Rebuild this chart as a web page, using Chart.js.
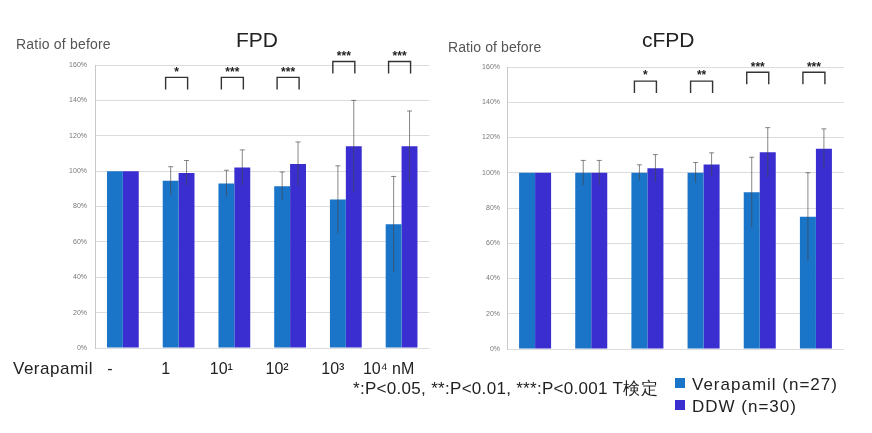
<!DOCTYPE html>
<html>
<head>
<meta charset="utf-8">
<script src="https://cdn.jsdelivr.net/npm/chart.js@4"></script>
<style>
  body { margin: 0; background: #fff; font-family: "Liberation Sans", Arial, sans-serif; }
  #wrap { position: relative; width: 872px; height: 433px; overflow: hidden; }
  .txt { position: absolute; white-space: nowrap; color: #333; line-height: 1; }
  .sq { position: absolute; width: 10px; height: 10px; }
</style>
</head>
<body>
<div id="wrap">
  <canvas id="fpd" style="position:absolute;left:0;top:0;width:440px;height:380px"></canvas>
  <canvas id="cfpd" style="position:absolute;left:440px;top:0;width:432px;height:380px"></canvas>

  <div class="txt" style="left:16px;top:37px;font-size:14px;letter-spacing:0.2px;color:#555">Ratio of before</div>
  <div class="txt" style="left:236px;top:29px;font-size:21px;color:#222">FPD</div>
  <div class="txt" style="left:448px;top:40px;font-size:14px;letter-spacing:0.1px;color:#555">Ratio of before</div>
  <div class="txt" style="left:642px;top:29px;font-size:21px;color:#222">cFPD</div>
  <div class="txt" style="left:13px;top:360px;font-size:17px;letter-spacing:0.5px;color:#222">Verapamil</div>

  <div class="txt" style="left:353px;top:380px;font-size:17px;letter-spacing:0.3px;color:#222">*:P&lt;0.05, **:P&lt;0.01, ***:P&lt;0.001 T検定</div>
  <div class="sq" style="left:675px;top:378px;background:#1a74c8"></div>
  <div class="txt" style="left:692px;top:376px;font-size:17px;letter-spacing:1px;color:#222">Verapamil (n=27)</div>
  <div class="sq" style="left:675px;top:400px;background:#3a2ed0"></div>
  <div class="txt" style="left:692px;top:398px;font-size:17px;letter-spacing:1px;color:#222">DDW (n=30)</div>
</div>
<script>
// --- data ---
const doseLabels = ['-', '1', '10¹', '10²', '10³', '10⁴ nM'];
const yTicks = [0, 20, 40, 60, 80, 100, 120, 140, 160];

const fpdVerapamil = [100, 94.5, 93, 91.5, 84, 70];
const fpdVerapamilSd = [0, 8, 7.5, 8, 19, 27];
const fpdDdw = [100, 99, 102, 104, 114, 114];
const fpdDdwSd = [0, 7, 10, 12.5, 26, 20];
const fpdSig = ['', '*', '***', '***', '***', '***'];
const fpdSigLevel = [null, 153, 153, 153, 162, 162];

const cfpdVerapamil = [100, 100, 100, 100, 89, 75];
const cfpdVerapamilSd = [0, 7, 4.5, 5.8, 19.8, 25];
const cfpdDdw = [100, 100, 102.6, 104.7, 111.6, 113.6];
const cfpdDdwSd = [0, 7, 7.7, 6.6, 14, 11.3];
const cfpdSig = ['', '', '*', '**', '***', '***'];
const cfpdSigLevel = [null, null, 152, 152, 157, 157];

const colVerapamil = '#1a74c8';
const colDdw = '#3a2ed0';

// --- error bars + significance brackets ---
const extrasPlugin = {
  id: 'extras',
  afterDatasetsDraw(chart, args, opts) {
    const ctx = chart.ctx;
    const y = chart.scales.y;
    ctx.save();
    // error bars
    chart.data.datasets.forEach((ds, di) => {
      const meta = chart.getDatasetMeta(di);
      meta.data.forEach((bar, i) => {
        const sd = ds.sd[i];
        if (!sd) return;
        const top = y.getPixelForValue(ds.data[i] + sd);
        const bot = y.getPixelForValue(ds.data[i] - sd);
        ctx.strokeStyle = 'rgba(70,70,70,0.65)';
        ctx.lineWidth = 1;
        ctx.beginPath();
        ctx.moveTo(bar.x, top);
        ctx.lineTo(bar.x, bot);
        ctx.moveTo(bar.x - 2.5, top);
        ctx.lineTo(bar.x + 2.5, top);
        ctx.stroke();
      });
    });
    // brackets
    const m0 = chart.getDatasetMeta(0), m1 = chart.getDatasetMeta(1);
    opts.sig.forEach((s, i) => {
      if (!s) return;
      const cx = (m0.data[i].x + m1.data[i].x) / 2 - 2;
      const x1 = cx - 11, x2 = cx + 11;
      const yt = y.getPixelForValue(opts.level[i]);
      ctx.strokeStyle = '#333';
      ctx.lineWidth = 1.4;
      ctx.beginPath();
      ctx.moveTo(x1, yt + 12);
      ctx.lineTo(x1, yt);
      ctx.lineTo(x2, yt);
      ctx.lineTo(x2, yt + 12);
      ctx.stroke();
      ctx.fillStyle = '#222';
      ctx.font = 'bold 12px "Liberation Sans", Arial';
      ctx.textAlign = 'center';
      ctx.textBaseline = 'middle';
      ctx.fillText(s, cx, yt - 5);
    });
    ctx.restore();
  }
};

function makeChart(id, verapamil, verSd, ddw, ddwSd, sig, level, lay) {
  return new Chart(document.getElementById(id), {
    type: 'bar',
    data: {
      labels: doseLabels,
      datasets: [
        { label: 'Verapamil (n=27)', data: verapamil, sd: verSd, backgroundColor: colVerapamil },
        { label: 'DDW (n=30)', data: ddw, sd: ddwSd, backgroundColor: colDdw }
      ]
    },
    options: {
      responsive: false,
      animation: false,
      layout: { padding: { top: lay.top, right: lay.right, left: 0, bottom: 0 } },
      datasets: { bar: { categoryPercentage: 0.57, barPercentage: 1 } },
      plugins: {
        legend: { display: false },
        tooltip: { enabled: false },
        extras: { sig: sig, level: level }
      },
      scales: {
        x: {
          grid: { display: false, drawTicks: false },
          border: { display: false },
          ticks: {
            display: lay.xLabels,
            color: '#222',
            font: { size: 16, family: '"Liberation Sans", Arial' },
            padding: 12,
            labelOffset: -13,
            maxRotation: 0,
            autoSkip: false
          },
          afterFit(s) { s.height = lay.xh; }
        },
        y: {
          min: 0,
          max: 160,
          afterBuildTicks(s) { s.ticks = yTicks.map(v => ({ value: v })); },
          grid: { color: '#dcdcdc', drawTicks: false },
          border: { color: '#c8c8c8' },
          ticks: {
            color: '#777',
            font: { size: 7, family: '"Liberation Sans", Arial' },
            padding: lay.tp,
            callback: v => v + '%'
          },
          afterFit(s) { s.width = lay.yw; }
        }
      }
    },
    plugins: [extrasPlugin]
  });
}

makeChart('fpd', fpdVerapamil, fpdVerapamilSd, fpdDdw, fpdDdwSd, fpdSig, fpdSigLevel,
  { top: 65, right: 9, yw: 95, xh: 32, tp: 8, xLabels: true });
makeChart('cfpd', cfpdVerapamil, cfpdVerapamilSd, cfpdDdw, cfpdDdwSd, cfpdSig, cfpdSigLevel,
  { top: 67, right: 28, yw: 67, xh: 31, tp: 7, xLabels: false });
</script>
</body>
</html>
